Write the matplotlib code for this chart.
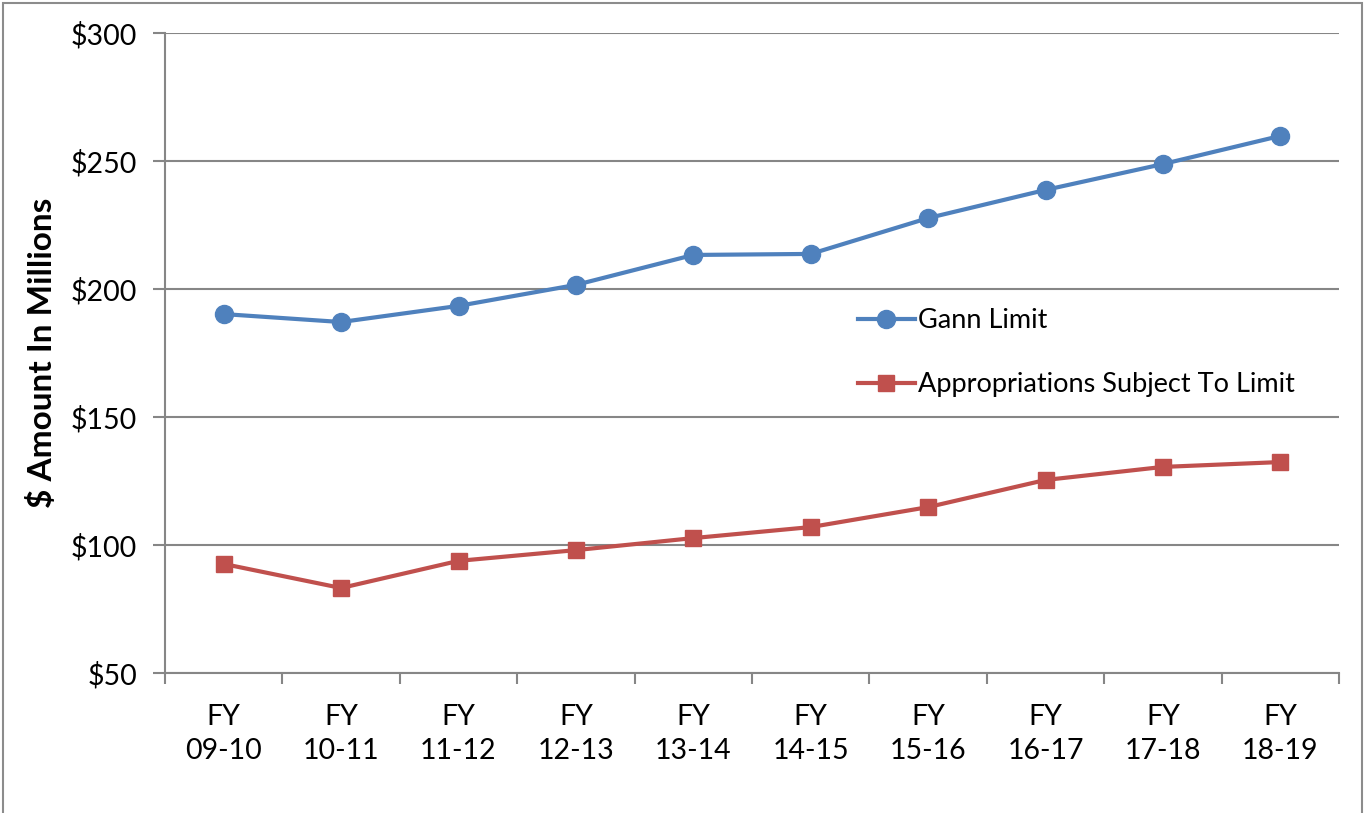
import matplotlib
matplotlib.use("Agg")
import matplotlib.pyplot as plt
from matplotlib.patches import Rectangle

categories = ["FY\n09-10", "FY\n10-11", "FY\n11-12", "FY\n12-13", "FY\n13-14",
              "FY\n14-15", "FY\n15-16", "FY\n16-17", "FY\n17-18", "FY\n18-19"]
gann_limit = [190.2, 187.1, 193.4, 201.6, 213.3, 213.7, 227.7, 238.7, 248.8, 259.8]
appropriations = [92.6, 83.2, 93.8, 98.0, 102.7, 107.0, 114.8, 125.4, 130.5, 132.4]
yticks = [50, 100, 150, 200, 250, 300]
ytick_labels = ["$50", "$100", "$150", "$200", "$250", "$300"]

plt.rcParams['font.family'] = ['Lato', 'DejaVu Sans']
W, H = 1364, 813
fig = plt.figure(figsize=(W / 100, H / 100), dpi=100)
x0, x1, y0, y1 = 165, 1339, 33, 673
ax = fig.add_axes([x0 / W, 1 - y1 / H, (x1 - x0) / W, (y1 - y0) / H])

grid_c = "#868686"
blue = "#4F81BD"
red = "#C0504D"

x = list(range(len(categories)))
ax.plot(x, gann_limit, color=blue, lw=3, marker="o", ms=13, label="Gann Limit", zorder=3)
ax.plot(x, appropriations, color=red, lw=3, marker="s", ms=11.5,
        label="Appropriations Subject To Limit", zorder=3)

ax.set_xlim(-0.5, len(categories) - 0.5)
ax.set_ylim(50, 300)
ax.set_yticks(yticks)
ax.set_yticklabels(ytick_labels, fontsize=20.5)
ax.set_xticks([i - 0.5 for i in range(len(categories) + 1)], minor=False)
ax.set_xticklabels([])
ax.set_xticks(x, minor=True)
ax.set_xticklabels(categories, minor=True, fontsize=20.5, linespacing=1.4)
ax.tick_params(axis="x", which="minor", length=0, pad=22)
ax.tick_params(axis="x", which="major", length=8, width=1.5, color=grid_c)
ax.tick_params(axis="y", length=9, width=1.5, color=grid_c, pad=11)
ax.grid(axis="y", color=grid_c, lw=1.5, zorder=0)
ax.set_axisbelow(True)
for s in ["top", "right"]:
    ax.spines[s].set_visible(False)
for s in ["left", "bottom"]:
    ax.spines[s].set_color(grid_c)
    ax.spines[s].set_linewidth(1.5)

ax.set_ylabel("$ Amount In Millions", fontsize=24, fontweight="bold")
ax.yaxis.set_label_coords((57 - x0) / (x1 - x0), 1 - (353 - y0) / (y1 - y0))

leg = ax.legend(loc="upper left",
                bbox_to_anchor=((858 - x0) / (x1 - x0), 1 - (308 - y0) / (y1 - y0)),
                frameon=False, fontsize=19.5, handlelength=2.1, handletextpad=0.1,
                labelspacing=1.45, borderaxespad=0, borderpad=0)

fig.patches.append(Rectangle((3 / W, -0.01), (1362 - 3) / W, 1 - 3 / H + 0.01,
                             transform=fig.transFigure, fill=False, ec="#8c8c8c", lw=1.5))

fig.savefig("out.png", dpi=100)
